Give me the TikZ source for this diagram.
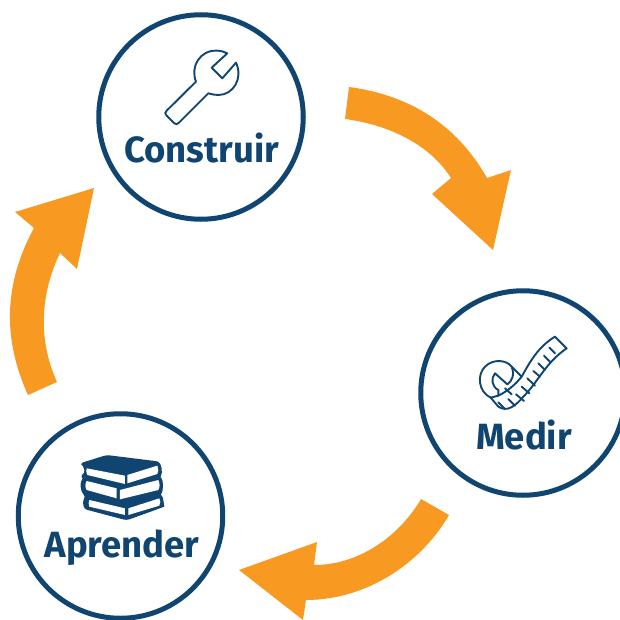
\documentclass[tikz,border=0pt]{standalone}
\usepackage{fontspec}
\setmainfont{Fira Sans}
\definecolor{navy}{HTML}{0F4570}
\definecolor{naranja}{HTML}{F89A22}
\tikzset{
stage/.style={draw=navy,line width=5pt,circle,minimum size=204.5pt,inner sep=0pt},
stagetext/.style={text=navy,font=\fontsize{36.5}{36.5}\selectfont\bfseries,inner sep=0pt},
icon/.style={draw=navy,line width=1.9pt,line join=round,line cap=round},
flecha/.style={fill=naranja,draw=none}
}
\begin{document}
\begin{tikzpicture}[x=1pt,y=-1pt]
\useasboundingbox (0,0) rectangle (620,620);
\node (construir) at (201,117) [stage] {};
\node (medir) at (523,393) [stage] {};
\node (aprender) at (120.5,516) [stage] {};
\node (tconstruir) at (201.5,148) [stagetext] {Construir};
\node (tmedir) at (524,435) [stagetext] {Medir};
\node (taprender) at (122,548) [stagetext] {Aprender};

% flechas
\fill[flecha] (349,87) .. controls (410,95) and (457,125) .. (487,178) -- (511,170) -- (493,250) -- (432,194) -- (451,178)
.. controls (430,145) and (390,125) .. (345,119) -- cycle;
\fill[flecha] (449,515) .. controls (420,565) and (365,600) .. (306,600) -- (303,620) -- (239,570) -- (317,542) -- (314,565)
.. controls (360,565) and (400,535) .. (421,499) -- cycle;
\fill[flecha] (28,395) .. controls (3,340) and (3,285) .. (34,228) -- (15,212) -- (94,188) -- (77,269) -- (60,253)
.. controls (40,295) and (38,340) .. (57,382) -- cycle;

% llave
\begin{scope}[shift={(150,40)},x=.3333pt,y=-.3333pt]
\draw[icon] (50,212) -- (138,125) .. controls (120,80) and (150,30) .. (200,32) .. controls (212,32) and (222,35) .. (232,40)
-- (185,83) -- (217,115) -- (258,68) .. controls (280,115) and (250,165) .. (205,165) .. controls (195,165) and (185,163) .. (175,160)
-- (87,248) .. controls (82,254) and (77,254) .. (72,249) -- (50,227) .. controls (44,222) and (44,217) .. (50,212) -- cycle;
\end{scope}

% cinta
\begin{scope}[shift={(470,325)},x=.3333pt,y=-.3333pt]
\draw[icon] (255,35) -- (290,70) .. controls (225,115) and (205,170) .. (160,215) .. controls (135,245) and (110,262) .. (85,245) -- (62,218);
\draw[icon] (255,35) .. controls (205,65) and (180,110) .. (155,155) .. controls (135,180) and (110,200) .. (85,212);
\draw[icon] (62,218) .. controls (25,200) and (20,150) .. (45,125) .. controls (70,100) and (110,105) .. (125,125) -- (155,155);
\draw[icon] (125,125) .. controls (135,150) and (125,170) .. (112,178) -- (75,145) .. controls (62,160) and (65,185) .. (85,195) -- (85,212) -- (62,218);
\foreach \xa/\ya/\xb/\yb in {238/68/255/85,222/92/242/112,205/115/225/135,190/138/210/155,172/160/195/182,155/185/178/205,138/208/162/228,115/222/135/242,85/232/105/252,105/190/125/208}
  \draw[icon] (\xa,\ya) -- (\xb,\yb);
\end{scope}

% libros
\begin{scope}[shift={(70,445)},x=.3333pt,y=-.3333pt]
\fill[navy,rounded corners=3pt] (30,55) -- (110,30) -- (255,48) .. controls (275,52) and (278,85) .. (268,97)
.. controls (280,105) and (280,140) .. (268,150) .. controls (280,155) and (282,185) .. (275,188) -- (170,226) -- (42,192) -- (38,165) -- (48,155)
.. controls (30,140) and (30,110) .. (42,100) -- (30,92) -- (45,85) -- (40,62) -- cycle;
\fill[white] (50,70) -- (165,92) -- (165,117) -- (52,90) .. controls (48,85) and (48,75) .. (50,70) -- cycle;
\fill[white] (172,90) -- (262,62) .. controls (266,70) and (266,80) .. (262,87) -- (172,115) -- cycle;
\fill[white] (50,108) -- (140,130) -- (140,160) -- (50,135) .. controls (45,128) and (45,115) .. (50,108) -- cycle;
\fill[white] (150,135) -- (265,105) .. controls (270,115) and (270,127) .. (265,135) -- (150,163) -- cycle;
\fill[white] (58,165) -- (165,190) -- (165,210) -- (58,185) .. controls (55,178) and (55,172) .. (58,165) -- cycle;
\fill[white] (175,190) -- (268,160) .. controls (272,167) and (272,175) .. (268,182) -- (175,210) -- cycle;
\end{scope}
\end{tikzpicture}
\end{document}
